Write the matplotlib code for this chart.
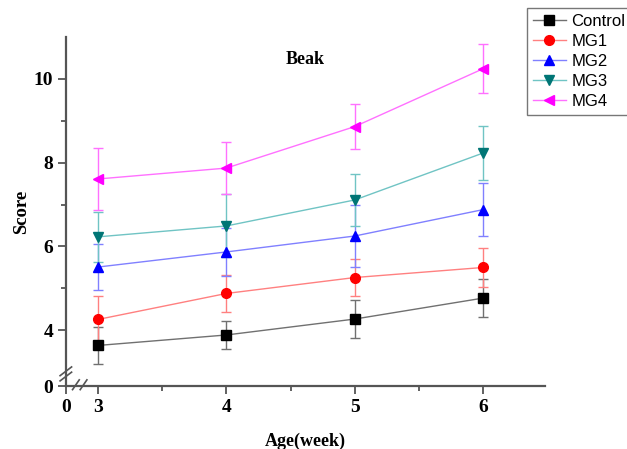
import matplotlib
matplotlib.use("Agg")
import matplotlib.pyplot as plt
from matplotlib.lines import Line2D

# data
ages = [3, 4, 5, 6]
groups = ["Control", "MG1", "MG2", "MG3", "MG4"]
control = [3.64, 3.89, 4.27, 4.77]
control_err = [0.44, 0.33, 0.46, 0.46]
mg1 = [4.26, 4.88, 5.26, 5.50]
mg1_err = [0.55, 0.44, 0.45, 0.46]
mg2 = [5.51, 5.87, 6.25, 6.88]
mg2_err = [0.54, 0.58, 0.75, 0.63]
mg3 = [6.23, 6.49, 7.11, 8.23]
mg3_err = [0.60, 0.75, 0.63, 0.64]
mg4 = [7.61, 7.87, 8.86, 10.24]
mg4_err = [0.74, 0.63, 0.53, 0.58]

SERIES = [control, mg1, mg2, mg3, mg4]
ERRORS = [control_err, mg1_err, mg2_err, mg3_err, mg4_err]
MARKERS = ["s", "o", "^", "v", "<"]
MARKER_COLORS = ["#000000", "#ff0000", "#0000ff", "#007575", "#ff00ff"]
LINE_COLORS = ["#707070", "#ff8080", "#8080ff", "#70c4c4", "#ff70ff"]
SERIF = "Liberation Serif"
AXIS_GRAY = "#555555"

fig = plt.figure(figsize=(6.27, 4.49), dpi=100)
ax = fig.add_axes([0.105, 0.140, 0.764, 0.778])

handles = []
for vals, errs, mk, mc, lc, name in zip(SERIES, ERRORS, MARKERS,
                                        MARKER_COLORS, LINE_COLORS, groups):
    ax.errorbar(ages, vals, yerr=errs, color=lc, lw=1.0, elinewidth=1.0,
                capsize=3.5, capthick=1.0, marker=mk, markersize=7,
                markerfacecolor=mc, markeredgecolor=mc, zorder=3)
    handles.append(Line2D([], [], color=lc, lw=1.0, marker=mk, markersize=7,
                          markerfacecolor=mc, markeredgecolor=mc, label=name))

y_lo, x_lo = 2.67, 2.75
ax.set_xlim(x_lo, 6.48)
ax.set_ylim(y_lo, 11.0)

for s in ("top", "right"):
    ax.spines[s].set_visible(False)
for s in ("left", "bottom"):
    ax.spines[s].set_color(AXIS_GRAY)
    ax.spines[s].set_linewidth(1.6)

ax.set_xticks([x_lo, 3, 4, 5, 6])
ax.set_xticklabels(["0", "3", "4", "5", "6"])
ax.set_xticks([3.5, 4.5, 5.5], minor=True)
ax.set_yticks([y_lo, 4, 6, 8, 10])
ax.set_yticklabels(["0", "4", "6", "8", "10"])
ax.set_yticks([5, 7, 9], minor=True)
ax.tick_params(which="major", direction="out", length=6, width=1.3,
               color=AXIS_GRAY, pad=3)
ax.tick_params(which="minor", direction="out", length=3.5, width=1.3,
               color=AXIS_GRAY)
for lab in ax.get_xticklabels() + ax.get_yticklabels():
    lab.set_fontfamily(SERIF)
    lab.set_fontweight("bold")
    lab.set_fontsize(14)

ax.set_xlabel("Age(week)", fontfamily=SERIF, fontweight="bold",
              fontsize=13, labelpad=12)
ax.set_ylabel("Score", fontfamily=SERIF, fontweight="bold",
              fontsize=13.5, labelpad=3)
ax.text(0.5, 0.935, "Beak", transform=ax.transAxes, ha="center",
        va="center", fontfamily=SERIF, fontweight="bold", fontsize=13)

# axis break marks
tr = ax.transAxes
ax.add_line(Line2D([-0.012, 0.012], [0.015, 0.040], transform=tr,
                   color=AXIS_GRAY, lw=1.2, clip_on=False))
ax.add_line(Line2D([-0.012, 0.012], [0.030, 0.055], transform=tr,
                   color=AXIS_GRAY, lw=1.2, clip_on=False))
ax.add_line(Line2D([0.014, 0.028], [-0.010, 0.018], transform=tr,
                   color=AXIS_GRAY, lw=1.2, clip_on=False))
ax.add_line(Line2D([0.030, 0.044], [-0.010, 0.018], transform=tr,
                   color=AXIS_GRAY, lw=1.2, clip_on=False))

leg = fig.legend(handles=handles, loc="upper left",
                 bbox_to_anchor=(0.8405, 0.982),
                 prop={"family": "Liberation Sans", "size": 12},
                 handlelength=2.0, handletextpad=0.3, labelspacing=0.3,
                 borderpad=0.35, borderaxespad=0.0, fancybox=False,
                 framealpha=1.0, edgecolor="#777777")
leg.get_frame().set_linewidth(1.0)

fig.savefig("out.png", dpi=100, facecolor="white")
